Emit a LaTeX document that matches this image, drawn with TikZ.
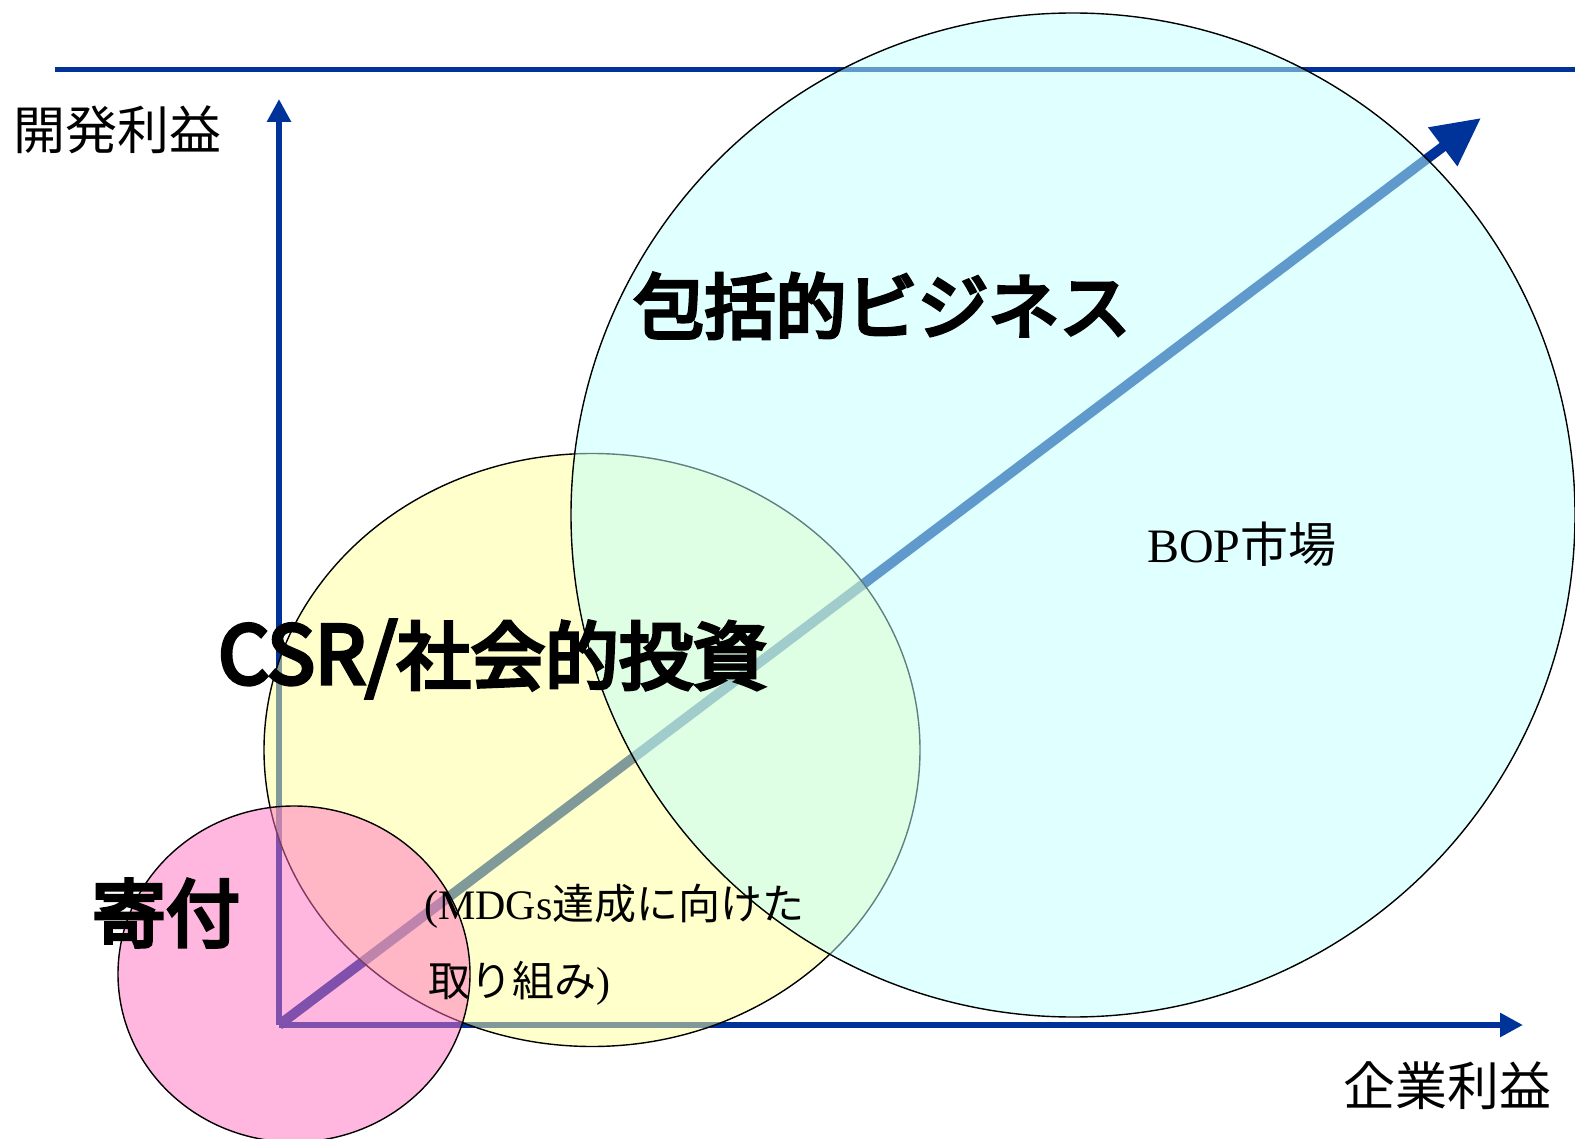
\documentclass[tikz,border=0pt]{standalone}
\usepackage{fontspec}
\setmainfont{Liberation Serif}
\newfontfamily\cjk{Noto Sans CJK JP}
\newfontfamily\cjkbold[FakeBold=5]{Noto Sans CJK JP}
\usetikzlibrary{arrows.meta,shapes.geometric}
\definecolor{axisblue}{RGB}{0,51,153}
\definecolor{cyanfill}{RGB}{193,255,255}
\definecolor{yellowfill}{RGB}{255,255,153}
\definecolor{pinkfill}{RGB}{255,112,192}
\tikzset{
  axis/.style={draw=axisblue, line width=6pt, -{Triangle[length=23pt,width=23pt]}},
  bigarrow/.style={draw=axisblue, line width=10pt, -{Triangle[length=48pt,width=46pt]}},
  bubble/.style={draw=black, line width=1.4pt, fill opacity=0.5},
  axislabel/.style={font=\cjk\fontsize{52}{60}\selectfont, inner sep=0pt},
  biglabel/.style={font=\cjkbold\fontsize{71}{80}\selectfont, inner sep=0pt},
  smalllabel/.style={font=\fontsize{42}{50}\selectfont, inner sep=0pt, anchor=west},
}
\begin{document}
\begin{tikzpicture}[x=1pt,y=-1pt]
\useasboundingbox (0,0) rectangle (1575,1139);
% top rule
\coordinate (r1) at (55,70);
\coordinate (r2) at (1575,70);
\draw[axisblue, line width=5pt] (r1) -- (r2);
% axes
\coordinate (o) at (279,1025);
\coordinate (ytop) at (279,99);
\coordinate (xend) at (1523,1025);
\coordinate (dtip) at (1481,118);
\draw[axis] (o) -- (ytop);
\draw[axis] (o) -- (xend);
\draw[bigarrow] (o) -- (dtip);
% bubbles
\node[bubble, fill=yellowfill, ellipse, minimum width=656pt, minimum height=593pt, inner sep=0pt] (csr) at (592,750) {};
\node[bubble, fill=cyanfill, circle, minimum size=1004pt, inner sep=0pt] (bop) at (1073,515) {};
\node[bubble, fill=pinkfill, ellipse, minimum width=352pt, minimum height=336pt, inner sep=0pt] (kifu) at (294,974) {};
% labels
\node[axislabel] (ylab) at (117,130) {開発利益};
\node[axislabel] (xlab) at (1447,1086) {企業利益};
\node[biglabel] (inc) at (882,306) {包括的ビジネス};
\node[biglabel, anchor=west] (csrl) at (218,659) {{\fontsize{80}{80}\selectfont CSR/}{\fontsize{74}{80}\selectfont 社会的投資}};
\node[biglabel, font=\cjkbold\fontsize{74}{80}\selectfont] (kifl) at (166,913) {寄付};
\node[smalllabel] (mdg1) at (424,906) {(MDGs{\cjk 達成に向けた}};
\node[smalllabel] (mdg2) at (428,983) {{\cjk 取り組み})};
\node[font=\fontsize{48}{54}\selectfont, inner sep=0pt, anchor=west] (bopl) at (1147,544) {BOP{\cjk 市場}};
\end{tikzpicture}
\end{document}
